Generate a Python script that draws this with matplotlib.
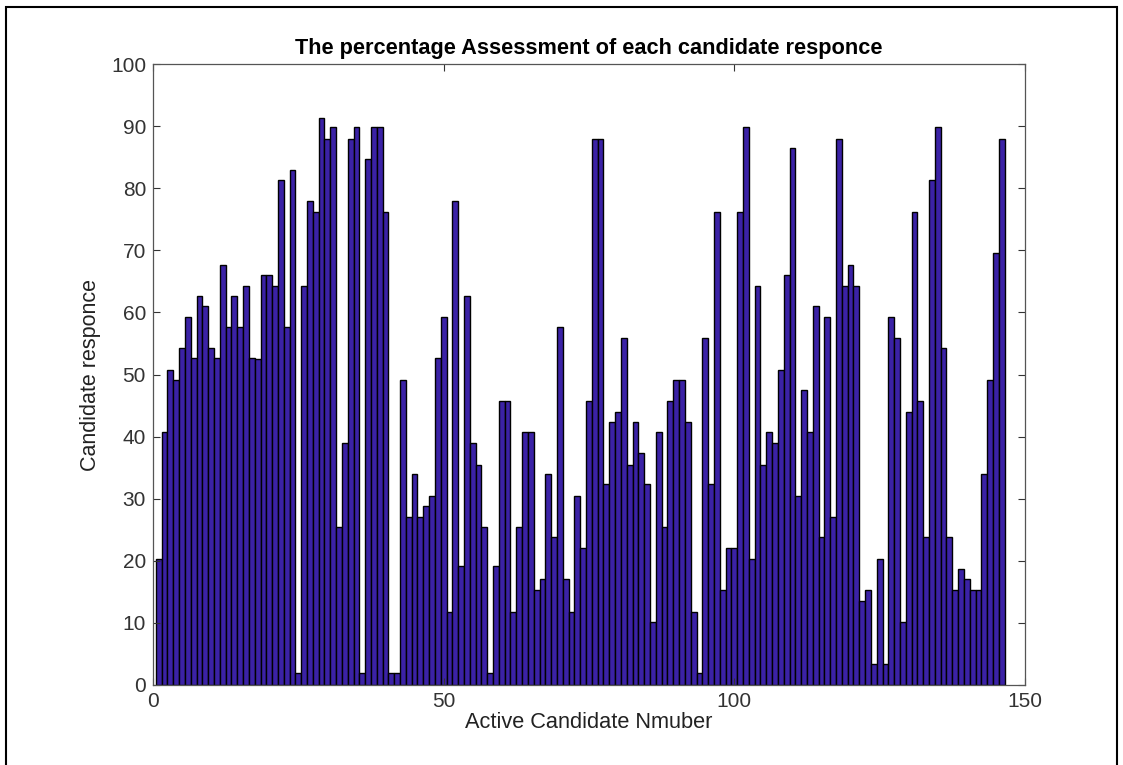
import matplotlib
matplotlib.use('Agg')
import matplotlib.pyplot as plt
from matplotlib.patches import Rectangle

# candidate number 1..146 and the percentage assessment
candidates = list(range(1, 147))
responses = [
    20.3, 40.8, 50.8, 49.1, 54.2, 59.3, 52.6, 62.6, 61.0, 54.2,
    52.6, 67.7, 57.6, 62.6, 57.6, 64.3, 52.6, 52.5, 66.1, 66.1,
    64.3, 81.3, 57.6, 83.0, 1.9, 64.3, 77.9, 76.1, 91.3, 87.9,
    89.8, 25.5, 39.0, 87.9, 89.8, 1.9, 84.7, 89.8, 89.8, 76.1,
    1.9, 1.9, 49.1, 27.0, 33.9, 27.0, 28.9, 30.5, 52.6, 59.3,
    11.8, 77.9, 19.1, 62.6, 39.0, 35.5, 25.5, 1.9, 19.1, 45.8,
    45.8, 11.8, 25.5, 40.7, 40.7, 15.3, 17.0, 33.9, 23.8, 57.6,
    17.0, 11.8, 30.5, 22.0, 45.7, 87.9, 87.9, 32.3, 42.4, 44.0,
    55.8, 35.5, 42.4, 37.3, 32.3, 10.2, 40.7, 25.5, 45.7, 49.1,
    49.1, 42.4, 11.8, 1.9, 55.8, 32.3, 76.1, 15.3, 22.0, 22.0,
    76.1, 89.8, 20.3, 64.3, 35.5, 40.7, 39.0, 50.8, 66.1, 86.4,
    30.5, 47.5, 40.7, 61.0, 23.8, 59.3, 27.0, 87.9, 64.3, 67.7,
    64.3, 13.6, 15.3, 3.4, 20.3, 3.4, 59.3, 55.8, 10.2, 44.0,
    76.1, 45.7, 23.8, 81.3, 89.8, 54.2, 23.8, 15.3, 18.7, 17.0,
    15.3, 15.3, 33.9, 49.1, 69.5, 87.9,
]

x_ticks = [0, 50, 100, 150]
y_ticks = list(range(0, 101, 10))

plt.rcParams['font.family'] = ['Liberation Sans', 'DejaVu Sans']

fig = plt.figure(figsize=(11.23, 7.65), dpi=100)
ax = fig.add_axes([0.1362, 0.1046, 0.7765, 0.8117])

ax.bar(candidates, responses, width=1.0, color='#3b22a6',
       edgecolor='black', linewidth=1.0)

ax.set_xlim(0, 150)
ax.set_ylim(0, 100)
ax.set_xticks(x_ticks)
ax.set_yticks(y_ticks)
ax.tick_params(direction='in', length=5, width=0.8, colors='#333333',
               labelsize=15, top=True, right=True, pad=5)
for s in ax.spines.values():
    s.set_color('#555555')
    s.set_linewidth(0.9)

ax.set_title('The percentage Assessment of each candidate responce',
             fontsize=15.7, fontweight='bold', pad=7)
ax.set_xlabel('Active Candidate Nmuber', fontsize=15.7, color='#222222', labelpad=1)
ax.set_ylabel('Candidate responce', fontsize=15.5, color='#222222', labelpad=7)

# outer frame around the whole figure
fig.patches.append(Rectangle((0.005, -0.02), 0.99, 1.011, transform=fig.transFigure,
                             fill=False, edgecolor='black', linewidth=1.5))

fig.savefig('out.png', dpi=100)
